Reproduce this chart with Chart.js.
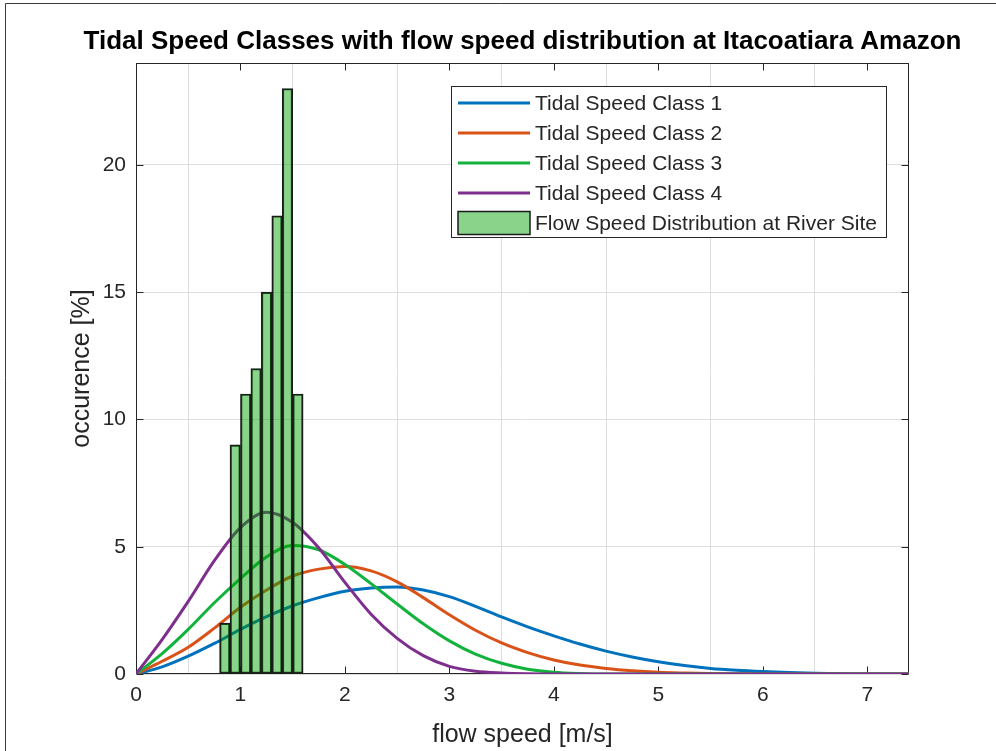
<!DOCTYPE html>
<html>
<head>
<meta charset="utf-8">
<title>Tidal Speed Classes</title>
<script src="https://cdn.jsdelivr.net/npm/chart.js@4.4.1/dist/chart.umd.min.js"></script>
<style>
  html, body { margin: 0; padding: 0; background: #fff; }
  canvas { display: block; }
</style>
</head>
<body>
<canvas id="tidal-chart" width="996" height="751"></canvas>
<script>
// flow speed [m/s] at which the class curves were read
var speeds = [0, 0.25, 0.5, 0.75, 1, 1.25, 1.5, 1.75, 2, 2.25, 2.5, 2.75, 3, 3.25, 3.5, 3.75,
              4, 4.25, 4.5, 4.75, 5, 5.25, 5.5, 5.75, 6, 6.25, 6.5, 6.75, 7, 7.25, 7.4];

// occurence [%] of each tidal speed class
var class1 = [0, 0.28, 0.7, 1.2, 1.75, 2.25, 2.68, 3.0, 3.25, 3.38, 3.42, 3.3, 3.04, 2.66, 2.24, 1.85,
              1.5, 1.18, 0.9, 0.67, 0.48, 0.33, 0.22, 0.15, 0.1, 0.06, 0.03, 0.01, 0, 0, 0];
var class2 = [0, 0.5, 1.05, 1.8, 2.62, 3.3, 3.85, 4.12, 4.22, 4.05, 3.62, 3.0, 2.33, 1.72, 1.22, 0.84,
              0.55, 0.35, 0.22, 0.13, 0.07, 0.04, 0.02, 0.01, 0, 0, 0, 0, 0, 0, 0];
var class3 = [0, 0.8, 1.75, 2.8, 3.75, 4.6, 5.05, 4.88, 4.3, 3.55, 2.75, 1.97, 1.3, 0.78, 0.42, 0.19,
              0.07, 0.02, 0, 0, 0, 0, 0, 0, 0, 0, 0, 0, 0, 0, 0];
var class4 = [0, 1.35, 2.85, 4.45, 5.75, 6.35, 5.95, 4.95, 3.6, 2.35, 1.4, 0.72, 0.3, 0.11, 0.04, 0.01,
              0, 0, 0, 0, 0, 0, 0, 0, 0, 0, 0, 0, 0, 0, 0];

// measured flow speed histogram (bins of 0.1 m/s)
var binCenters = [0.85, 0.95, 1.05, 1.15, 1.25, 1.35, 1.45, 1.55];
var binCounts = [2, 9, 11, 12, 15, 18, 23, 11];

var classNames = ["Tidal Speed Class 1", "Tidal Speed Class 2", "Tidal Speed Class 3", "Tidal Speed Class 4"];
var histName = "Flow Speed Distribution at River Site";
var chartTitle = "Tidal Speed Classes with flow speed distribution at Itacoatiara Amazon";

var xMax = 7.4, xStep = 1;
var yMax = 24, yStep = 5;

var lineColors = ["#0072bd", "#d95319", "#13b23c", "#7e2f8e"];
var histFill = "rgba(0,160,0,0.46)";
var fontFamily = '"Liberation Sans", Arial, Helvetica, sans-serif';
var axisColor = "#262626";

function toPoints(vals) {
    return speeds.map(function (s, i) { return {x: s, y: vals[i]}; });
}

var classData = [class1, class2, class3, class4];
var datasets = classData.map(function (vals, i) {
    return {
        type: 'line',
        label: classNames[i],
        data: toPoints(vals),
        borderColor: lineColors[i],
        borderWidth: 3,
        pointRadius: 0,
        fill: false,
        cubicInterpolationMode: 'monotone',
        order: 4 - i
    };
});
datasets.push({
    type: 'bar',
    label: histName,
    data: binCenters.map(function (c, i) { return {x: c, y: binCounts[i]}; }),
    backgroundColor: histFill,
    borderColor: "#1a1a1a",
    borderWidth: 1.5,
    borderSkipped: false,
    barPercentage: 1,
    categoryPercentage: 1,
    order: 0
});

// matlab-like look: screenshot frame, title, box, inward ticks and a legend inside the axes
var matlabLook = {
    id: 'matlabLook',
    beforeDraw: function (chart) {
        var c = chart.ctx, a = chart.chartArea;
        c.save();
        c.fillStyle = "#fff";
        c.fillRect(0, 0, chart.width, chart.height);
        c.strokeStyle = "#3a3a3a";
        c.lineWidth = 1;
        c.beginPath();
        c.moveTo(5.5, chart.height);
        c.lineTo(5.5, 3.5);
        c.lineTo(chart.width, 3.5);
        c.stroke();
        // title centred over the axes
        c.fillStyle = "#000";
        c.font = 'bold 26px ' + fontFamily;
        c.textAlign = 'center';
        c.textBaseline = 'middle';
        c.fillText(chartTitle, (a.left + a.right) / 2, 42);
        c.restore();
    },
    beforeDatasetsDraw: function (chart) {
        var c = chart.ctx, a = chart.chartArea;
        var xs = chart.scales.x, ys = chart.scales.y;
        var l = Math.round(a.left) + 0.5, r = Math.round(a.right) - 0.5;
        var t = Math.round(a.top) + 0.5, b = Math.round(a.bottom) - 0.5;
        c.save();
        c.strokeStyle = axisColor;
        c.lineWidth = 1;
        c.strokeRect(l, t, r - l, b - t);
        c.beginPath();
        xs.ticks.forEach(function (tk) {
            var px = Math.round(xs.getPixelForValue(tk.value)) + 0.5;
            c.moveTo(px, b); c.lineTo(px, b - 7);
            c.moveTo(px, t); c.lineTo(px, t + 7);
        });
        ys.ticks.forEach(function (tk) {
            var py = Math.round(ys.getPixelForValue(tk.value)) + 0.5;
            c.moveTo(l, py); c.lineTo(l + 7, py);
            c.moveTo(r, py); c.lineTo(r - 7, py);
        });
        c.stroke();
        c.restore();
    },
    afterDraw: function (chart) {
        var c = chart.ctx, a = chart.chartArea;
        var names = classNames.concat([histName]);
        c.save();
        c.font = '21px ' + fontFamily;
        var maxW = 0;
        names.forEach(function (n) { maxW = Math.max(maxW, c.measureText(n).width); });
        var boxW = Math.round(7 + 72 + 5 + maxW + 9);
        var right = Math.round(a.right) - 23, top = Math.round(a.top) + 23;
        var left = right - boxW;
        var boxH = 151;
        c.fillStyle = "#fff";
        c.fillRect(left, top, boxW, boxH);
        c.strokeStyle = axisColor;
        c.lineWidth = 1;
        c.strokeRect(left + 0.5, top + 0.5, boxW, boxH);
        c.textBaseline = 'middle';
        names.forEach(function (n, i) {
            var y = top + 17 + i * 30;
            if (i < classNames.length) {
                c.strokeStyle = lineColors[i];
                c.lineWidth = 3;
                c.beginPath();
                c.moveTo(left + 7, y);
                c.lineTo(left + 79, y);
                c.stroke();
            } else {
                c.fillStyle = histFill;
                c.fillRect(left + 7, y - 11.5, 72, 23);
                c.strokeStyle = "#1a1a1a";
                c.lineWidth = 1.5;
                c.strokeRect(left + 7, y - 11.5, 72, 23);
            }
            c.fillStyle = axisColor;
            c.fillText(n, left + 84, y + 1);
        });
        c.restore();
    }
};

var chart = new Chart(document.getElementById("tidal-chart"), {
    type: 'line',
    data: { datasets: datasets },
    plugins: [matlabLook],
    options: {
        responsive: false,
        animation: false,
        layout: { padding: { left: 0, right: 87, top: 63, bottom: 0 } },
        plugins: {
            legend: { display: false },
            tooltip: { enabled: false },
            title: { display: false }
        },
        scales: {
            x: {
                type: 'linear',
                min: 0,
                max: xMax,
                offset: false,
                afterFit: function (s) { s.height = 77; },
                ticks: {
                    stepSize: xStep,
                    includeBounds: false,
                    color: axisColor,
                    padding: 9,
                    maxRotation: 0,
                    font: { family: fontFamily, size: 21 }
                },
                grid: { color: "#dedede", drawTicks: false },
                border: { display: false },
                title: {
                    display: true,
                    text: "flow speed [m/s]",
                    color: axisColor,
                    font: { family: fontFamily, size: 25 },
                    padding: { top: 0, bottom: 1 }
                }
            },
            y: {
                type: 'linear',
                min: 0,
                max: yMax,
                afterFit: function (s) { s.width = 136; },
                ticks: {
                    stepSize: yStep,
                    includeBounds: false,
                    color: axisColor,
                    padding: 10,
                    font: { family: fontFamily, size: 21 }
                },
                grid: { color: "#dedede", drawTicks: false },
                border: { display: false },
                title: {
                    display: true,
                    text: "occurence [%]",
                    color: axisColor,
                    font: { family: fontFamily, size: 25 },
                    padding: { top: 67, bottom: 0 }
                }
            }
        }
    }
});
</script>
</body>
</html>
